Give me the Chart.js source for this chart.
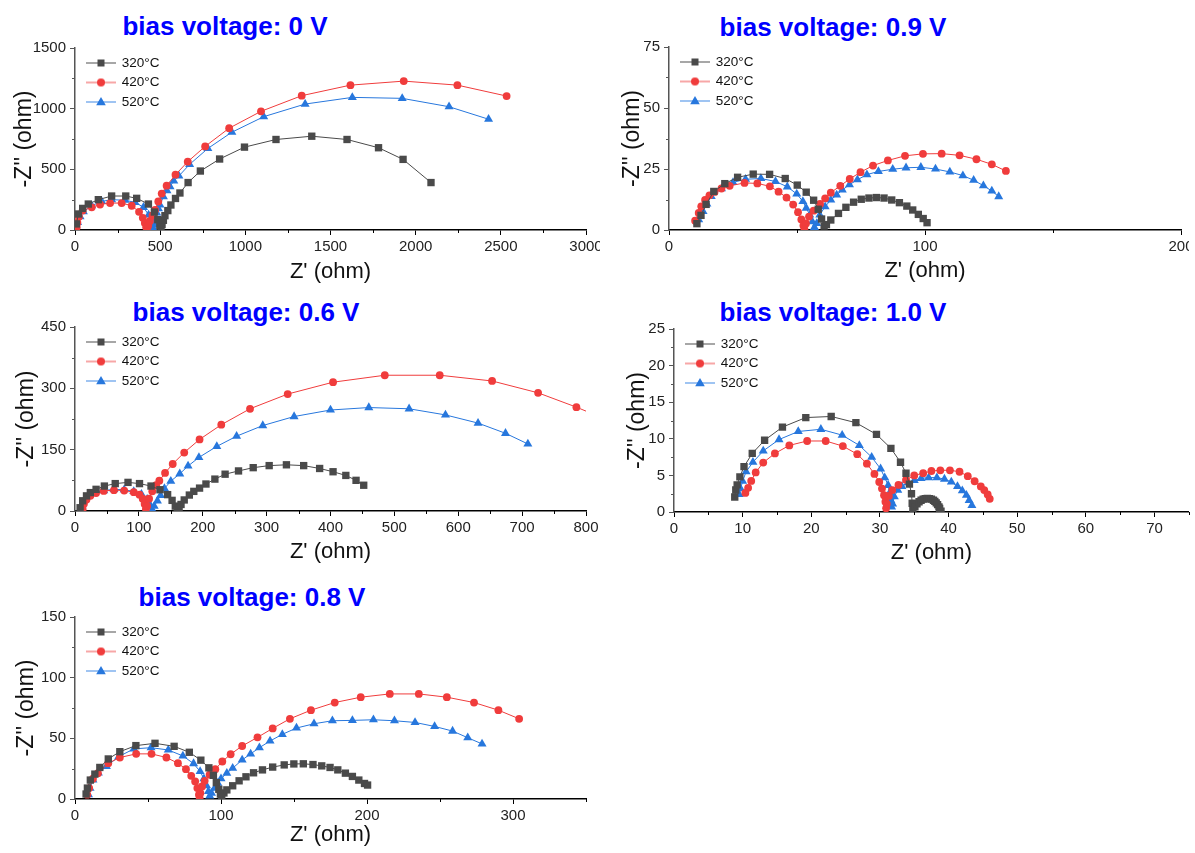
<!DOCTYPE html>
<html><head><meta charset="utf-8">
<script src="https://cdn.jsdelivr.net/npm/chart.js@4.4.1/dist/chart.umd.min.js"></script>
<style>
html,body{margin:0;padding:0;background:#fff;width:1195px;height:853px;overflow:hidden;position:relative;font-family:"Liberation Sans",Arial,sans-serif}
canvas{position:absolute}
.ttl{position:absolute;color:#0000ff;font-weight:bold;font-size:26px;white-space:nowrap;transform:translate(-50%,-50%);line-height:1}
</style></head><body>
<div class="ttl" style="left:225px;top:26px">bias voltage: 0 V</div>
<div class="ttl" style="left:833px;top:27px">bias voltage: 0.9 V</div>
<div class="ttl" style="left:246px;top:312px">bias voltage: 0.6 V</div>
<div class="ttl" style="left:833px;top:312px">bias voltage: 1.0 V</div>
<div class="ttl" style="left:252px;top:597px">bias voltage: 0.8 V</div>
<canvas id="c1"></canvas><canvas id="c2"></canvas><canvas id="c3"></canvas><canvas id="c4"></canvas><canvas id="c5"></canvas>
<script>
// ---- data: [Z', -Z''] pairs ----
const seriesLabels = ['320\u00B0C', '420\u00B0C', '520\u00B0C'];

const v0_320 = [[8,50],[20,132],[45,178],[78,214],[137,250],[215,280],[298,280],[362,261],[431,214],[466,148],[486,85],[498,35],[505,8],[511,45],[519,80],[528,118],[545,160],[563,206],[590,260],[616,305],[664,391],[736,486],[849,585],[995,683],[1180,746],[1390,773],[1597,746],[1782,678],[1926,582],[2090,391]];
const v0_420 = [[10,22],[14,60],[23,110],[45,160],[98,187],[147,210],[206,222],[274,222],[333,200],[376,150],[398,100],[410,58],[418,22],[423,5],[430,35],[440,75],[455,120],[470,165],[489,235],[509,300],[538,365],[590,456],[662,563],[764,689],[905,839],[1092,978],[1331,1107],[1617,1194],[1930,1227],[2245,1194],[2534,1104]];
const v0_520 = [[5,15],[15,63],[30,110],[49,151],[98,200],[157,236],[215,250],[294,245],[353,228],[402,187],[432,125],[448,65],[456,22],[461,5],[467,45],[473,91],[480,140],[490,175],[499,206],[519,275],[540,325],[558,358],[580,405],[610,445],[673,541],[780,672],[921,806],[1108,934],[1351,1038],[1628,1093],[1921,1085],[2196,1016],[2428,913]];

const v09_320 = [[10.9,2.6],[12.5,6],[14.5,10.5],[17.5,15.8],[21.8,19.0],[26.8,21.6],[32.9,22.9],[39.3,22.8],[45.4,21.1],[50.1,18.4],[53.6,15.5],[56.5,12.2],[58.3,8.5],[59.6,4.5],[60.6,1.6],[61.5,2.2],[63.2,4.1],[66.2,6.8],[69.1,9.3],[72.1,11.4],[75.1,12.6],[78.1,13.1],[81,13.3],[84,13.1],[87,12.3],[90,11.2],[92.9,9.8],[95.2,8.2],[97.4,6.4],[99.3,4.7],[100.8,3.0]];
const v09_420 = [[10.2,3.8],[11.6,7.0],[12.6,9.7],[14.1,12.3],[15.8,14.2],[17.8,15.6],[20.5,17],[23.7,18.1],[29.5,19.3],[34.5,19.1],[39.4,17.9],[42.8,15.7],[45.9,13.3],[48.5,10.4],[50.4,7.3],[51.7,4.3],[52.5,1.8],[52.9,0.3],[53.5,2.7],[54.7,5.5],[56.5,7.9],[59,10.7],[61,13],[63.2,15.3],[66.9,18.1],[70.6,20.9],[74.8,23.7],[79.7,26.4],[85.5,28.5],[92.2,30.4],[99.2,31.2],[106.5,31.3],[113.5,30.6],[120.1,29],[126.1,26.9],[131.6,24.2]];
const v09_520 = [[11.6,4.2],[13.3,7.6],[14.8,10.7],[16.5,13.8],[20.5,16.9],[25,19.5],[29.9,20.8],[35.9,21.1],[41.6,19.9],[46.2,17.7],[49.9,14.8],[52.3,11.7],[53.6,9.0],[55,6.2],[56,3.4],[56.8,1.1],[57.7,2.7],[58.9,6.2],[61,9.6],[63.2,12.3],[65.5,14.4],[67.7,16.4],[70.5,18.6],[73.6,20.6],[77.3,22.7],[81.8,24.0],[87.4,24.9],[92.6,25.5],[98.4,25.7],[104.1,25],[109.7,23.8],[114.8,22.3],[119,20.4],[122.8,18.2],[126.1,16],[128.8,13.7]];

const v06_320 = [[8,8],[12,25],[18,37],[24,45],[33,53],[46,61],[63,67],[83,70],[101,67],[119,61],[133,52],[145,40],[152,26],[157,12],[160,3],[163,8],[166,16],[171,27],[179,39],[186,48],[195,56],[205,66],[219,78],[235,90],[256,98],[279,106],[304,111],[331,113],[358,111],[383,104],[404,96],[424,87],[440,75],[452,63]];
const v06_420 = [[12,4],[14,18],[18,28],[24,37],[33,44],[45,49],[61,51],[77,50],[92,46],[101,40],[106,30],[109,17],[111,5],[113,12],[116,30],[121,48],[127,63],[132,74],[141,93],[153,115],[171,143],[195,175],[229,211],[274,250],[333,286],[404,315],[485,332],[571,332],[653,318],[725,289],[785,254],[845,215]];
const v06_520 = [[9,4],[11,15],[16,30],[22,38],[30,43],[45,50],[61,53],[77,52],[92,48],[104,41],[113,29],[118,14],[121,3],[124,12],[129,25],[134,38],[140,55],[150,73],[164,91],[177,110],[194,131],[222,158],[253,183],[294,209],[343,231],[400,247],[460,253],[523,250],[580,235],[631,215],[674,190],[709,164]];

const v10_320 = [[8.85,2.05],[9.0,3.0],[9.2,3.7],[9.6,4.8],[10.2,6.2],[11.4,8.0],[13.2,9.8],[15.8,11.6],[19.2,12.9],[22.9,13.05],[26.5,12.2],[29.5,10.6],[31.6,8.7],[33.0,6.8],[33.8,5.3],[34.3,3.8],[34.6,2.5],[34.7,1.2],[34.8,0.3],[35.1,0.7],[35.4,1.1],[35.7,1.4],[36.0,1.6],[36.3,1.75],[36.6,1.82],[36.9,1.85],[37.2,1.82],[37.5,1.75],[37.8,1.6],[38.0,1.45],[38.2,1.25],[38.4,1.0],[38.6,0.7],[38.7,0.5],[38.9,0.1]];
const v10_420 = [[10.4,2.6],[10.8,3.3],[11.25,4.25],[11.9,5.4],[13.0,6.75],[14.7,8.0],[16.8,9.1],[19.4,9.7],[22.1,9.7],[24.6,9.0],[26.7,7.9],[28.1,6.6],[29.2,5.2],[29.9,4.1],[30.3,3.2],[30.6,2.3],[30.8,1.4],[30.9,0.5],[31.0,1.1],[31.3,2.2],[31.8,3.0],[32.7,3.7],[33.8,4.4],[35.0,5.0],[36.3,5.3],[37.5,5.6],[38.8,5.7],[40.2,5.7],[41.6,5.5],[42.8,4.9],[43.8,4.2],[44.7,3.5],[45.2,3.0],[45.7,2.4],[46.0,1.8]];
const v10_520 = [[9.5,2.4],[9.7,3.2],[10.0,4.2],[10.5,5.5],[11.5,6.8],[13.0,8.35],[15.3,9.9],[18.1,11.0],[21.4,11.3],[24.5,10.5],[27.0,9.1],[28.8,7.5],[30.1,5.9],[30.7,4.7],[31.2,3.65],[31.4,2.6],[31.6,1.6],[31.7,0.7],[31.85,1.1],[32.1,2.1],[32.6,3.0],[33.2,3.5],[34.1,4.0],[35.0,4.3],[36.0,4.6],[37.1,4.7],[38.3,4.7],[39.4,4.5],[40.4,4.1],[41.3,3.5],[42.0,2.9],[42.6,2.3],[43.0,1.6],[43.4,0.9]];

const v08_320 = [[7.6,4.1],[8.5,9],[10.5,15.6],[13.6,20.5],[17,26],[22.8,33],[30.7,39],[41.7,44],[54.8,45.9],[67.9,43.4],[78.3,38.5],[86.2,32],[91.7,25.7],[94.8,19.5],[96.8,13.5],[98.5,8],[99.6,4],[100.5,1.5],[102,5],[104,7.5],[108,10.9],[112.4,15],[117.1,18.3],[122.3,21.6],[128.4,24],[135.4,26.3],[143.3,28.1],[149.9,28.9],[156.4,29],[163,28.4],[169,27.3],[174.7,26],[180,24],[185.2,21.3],[190,18.6],[194.4,15.6],[198.3,12.8],[200.4,11.5]];
const v08_420 = [[8.4,3.6],[9.7,9],[12.3,16.7],[15.7,21.3],[22.8,29.5],[30.7,34.2],[41.9,37.2],[52.4,37.2],[62.6,34.2],[70.5,29.5],[76,24.6],[79.6,19.1],[82.3,14.5],[83.8,9],[84.9,3.6],[85.4,0.8],[85.9,4.9],[87,10.4],[88.8,15],[92.2,20],[96.1,24.6],[100.9,30.9],[106.6,36.9],[114.5,43.7],[125,50.8],[135.4,58.2],[147.2,66.1],[161.6,73.2],[177.9,79.5],[195.7,83.9],[215.6,86.6],[235.5,86.6],[254.7,83.9],[273.3,79.5],[290,73.2],[304.2,66.1]];
const v08_520 = [[9.2,3.6],[10.3,9],[12.3,15.8],[16,21.5],[21.5,26.8],[30,35],[40.3,41.3],[52.1,42.3],[63.9,40.4],[73.9,35.5],[81.2,29.2],[85.7,22.7],[88.3,16.7],[90.1,10.9],[91.4,6.3],[92.3,2.5],[93.5,4.9],[95.6,9],[97.8,13],[100,16.7],[104,21.3],[108,25.4],[114.5,32.2],[120.3,37.2],[126.3,42.3],[133.6,47.8],[142,53.3],[151.7,58.5],[163.7,62],[176.3,64.5],[190,64.8],[204.4,65.3],[218.8,64.5],[232.9,63.1],[246.3,59.8],[258.6,56],[269,50.5],[278.8,45.4]];

// axis ranges / ticks
const axes = {
  c1: {xmax:3000, xstep:500, xminor:250, ymax:1500, ystep:500, yminor:250},
  c2: {xmax:200, xstep:100, xminor:50, ymax:75, ystep:25, yminor:12.5},
  c3: {xmax:800, xstep:100, xminor:50, ymax:450, ystep:150, yminor:75},
  c4: {xmax:75, xstep:10, xminor:5, ymax:25, ystep:5, yminor:2.5},
  c5: {xmax:350, xstep:100, xminor:50, ymax:150, ystep:50, yminor:25}
};
const panelData = {
  c1: [v0_320, v0_420, v0_520],
  c2: [v09_320, v09_420, v09_520],
  c3: [v06_320, v06_420, v06_520],
  c4: [v10_320, v10_420, v10_520],
  c5: [v08_320, v08_420, v08_520]
};
// layout: plot-area box in page pixels, y-axis box width, x-axis box height
const layoutBoxes = {
  c1: {L:75, T:48, R:586, B:230, w:68, h:59, pr:14},
  c2: {L:669, T:47, R:1181, B:230, w:54, h:58, pr:8},
  c3: {L:75, T:327, R:586, B:511, w:66, h:58, pr:14},
  c4: {L:674, T:329, R:1189, B:512, w:54, h:58, pr:5},
  c5: {L:75, T:617, R:586, B:799, w:66, h:53, pr:14}
};

const colors = ['#4a4a4a', '#f03c3c', '#2777dd'];
const legendLineColors = ['#8a8a8a', '#f58a8a', '#7fb0ee'];
const styles = ['rect', 'circle', 'triangle'];
const radii = [5.2, 3.9, 5.2];
const FONT = '"Liberation Sans", Arial, sans-serif';
Chart.defaults.font.family = FONT;

function legendImage(i) {
  const c = document.createElement('canvas');
  c.width = 36; c.height = 14;
  const g = c.getContext('2d');
  g.strokeStyle = legendLineColors[i]; g.lineWidth = 1.5;
  g.beginPath(); g.moveTo(6, 7); g.lineTo(36, 7); g.stroke();
  g.fillStyle = colors[i];
  const cx = 21, cy = 7;
  if (i === 0) { g.fillRect(cx - 3.5, cy - 3.5, 7, 7); }
  else if (i === 1) { g.beginPath(); g.arc(cx, cy, 4, 0, Math.PI * 2); g.fill(); }
  else { g.beginPath(); g.moveTo(cx, cy - 5); g.lineTo(cx + 4.8, cy + 3.3); g.lineTo(cx - 4.8, cy + 3.3); g.closePath(); g.fill(); }
  return c;
}
const legendImgs = [0, 1, 2].map(legendImage);

const minorTicks = {
  id: 'minorTicks',
  afterDraw(chart, args, o) {
    const ctx = chart.ctx, a = chart.chartArea;
    const xs = chart.scales.x, ys = chart.scales.y;
    ctx.save();
    ctx.lineWidth = 1;
    ctx.strokeStyle = '#000';
    for (let v = 0; v <= o.xmax + 1e-9; v += o.xminor) {
      if (Math.abs(v / o.xstep - Math.round(v / o.xstep)) < 1e-6) continue;
      const p = Math.round(xs.getPixelForValue(v)) + 0.5;
      ctx.beginPath(); ctx.moveTo(p, a.bottom); ctx.lineTo(p, a.bottom + 3); ctx.stroke();
    }
    ctx.strokeStyle = '#555';
    for (let v = 0; v <= o.ymax + 1e-9; v += o.yminor) {
      if (Math.abs(v / o.ystep - Math.round(v / o.ystep)) < 1e-6) continue;
      const p = Math.round(ys.getPixelForValue(v)) + 0.5;
      ctx.beginPath(); ctx.moveTo(a.left, p); ctx.lineTo(a.left - 3, p); ctx.stroke();
    }
    ctx.restore();
  }
};

function build(id) {
  const b = layoutBoxes[id], ax = axes[id];
  const cv = document.getElementById(id);
  const W = (b.R - b.L) + b.w + b.pr, H = (b.B - b.T) + 10 + b.h;
  cv.width = W; cv.height = H;
  cv.style.left = (b.L - b.w) + 'px'; cv.style.top = (b.T - 10) + 'px';
  cv.style.width = W + 'px'; cv.style.height = H + 'px';
  const datasets = panelData[id].map((arr, i) => ({
    label: seriesLabels[i],
    data: arr.map(p => ({x: p[0], y: p[1]})),
    showLine: true,
    borderColor: colors[i],
    backgroundColor: colors[i],
    borderWidth: 1,
    pointStyle: styles[i],
    pointRadius: radii[i],
    pointBorderWidth: 0,
    pointBackgroundColor: colors[i],
    pointBorderColor: colors[i]
  }));
  new Chart(cv, {
    type: 'scatter',
    data: {datasets},
    options: {
      responsive: false, animation: false, events: [],
      layout: {padding: {top: 10, right: b.pr, left: 0, bottom: 0}},
      plugins: {
        title: {display: false}, tooltip: {enabled: false},
        legend: {
          position: 'chartArea', align: 'start',
          title: {display: true, text: ' ', font: {size: 1}, padding: {top: 0, bottom: 11}},
          labels: {
            usePointStyle: true, pointStyleWidth: 34, padding: 6,
            font: {size: 13.5, family: FONT}, color: '#111',
            generateLabels: (chart) => chart.data.datasets.map((d, i) => ({
              text: d.label, pointStyle: legendImgs[i], fillStyle: colors[i],
              strokeStyle: colors[i], lineWidth: 0, hidden: false, datasetIndex: i, fontColor: '#111'
            }))
          }
        },
        minorTicks: ax
      },
      scales: {
        x: {
          type: 'linear', position: 'bottom', min: 0, max: ax.xmax,
          ticks: {stepSize: ax.xstep, includeBounds: false, autoSkip: false, maxRotation: 0, padding: 3, color: '#222', font: {size: 15}, callback: (v) => String(v)},
          grid: {drawOnChartArea: false, drawTicks: true, tickLength: 5, color: '#000', lineWidth: 1},
          border: {display: true, color: '#000', width: 1.5},
          title: {display: true, text: "Z' (ohm)", color: '#111', font: {size: 22}},
          afterFit: (s) => { s.height = b.h; s.paddingLeft = 0; s.paddingRight = 0; }
        },
        y: {
          type: 'linear', position: 'left', min: 0, max: ax.ymax,
          ticks: {stepSize: ax.ystep, includeBounds: false, autoSkip: false, padding: 4, color: '#222', font: {size: 15}, callback: (v) => String(v)},
          grid: {drawOnChartArea: false, drawTicks: true, tickLength: 5, color: '#555', lineWidth: 1},
          border: {display: true, color: '#555', width: 1.5},
          title: {display: true, text: "-Z'' (ohm)", color: '#111', font: {size: 23}},
          afterFit: (s) => { s.width = b.w; s.paddingTop = 0; s.paddingBottom = 0; }
        }
      }
    },
    plugins: [minorTicks]
  });
}
['c1', 'c2', 'c3', 'c4', 'c5'].forEach(build);
</script>
</body></html>
